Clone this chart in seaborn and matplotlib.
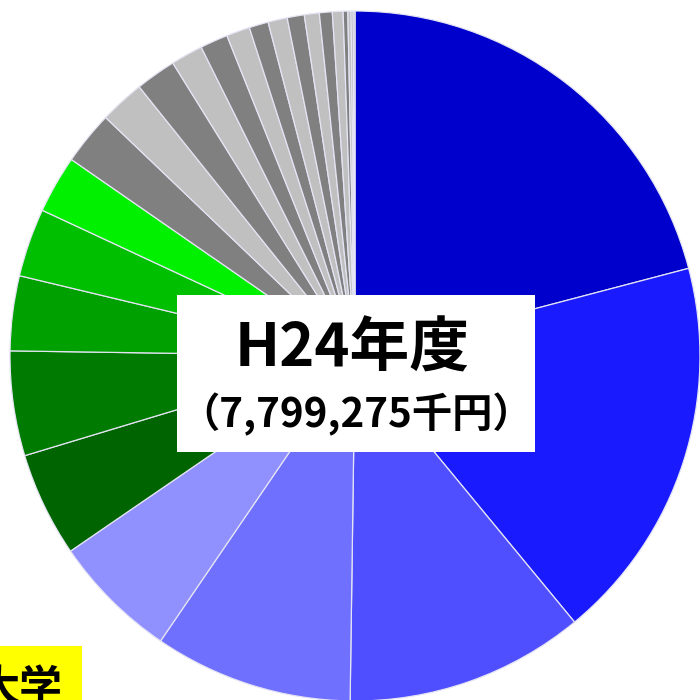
import matplotlib
matplotlib.use('Agg')
import matplotlib.pyplot as plt
import seaborn as sns
from matplotlib.patches import Rectangle

# share of the H24 budget (%), clockwise from 12 o'clock
blue_shares = [20.9, 18.1, 11.2, 9.3, 5.9]
green_shares = [4.9, 4.9, 3.5, 3.2, 2.7]
grey_shares = [2.5, 2.1, 1.9, 1.5, 1.3, 1.1, 0.9, 0.9, 0.8, 0.7, 0.6, 0.5,
               0.22, 0.15, 0.09, 0.09]

blue_colors = ['#0000CC', '#1A1AFF', '#4F4FFF', '#7070FF', '#9090FF']
green_colors = ['#006400', '#007A00', '#00A000', '#00BE00', '#00F000']
grey_colors = ['#808080', '#C0C0C0'] * 8

title_text = 'H24年度'
total_text = '（7,799,275千円）'
corner_text = '大学'

sns.set_theme(style='white')
plt.rcParams['font.family'] = ['Noto Sans CJK JP', 'DejaVu Sans']

values = blue_shares + green_shares + grey_shares
colors = blue_colors + green_colors + grey_colors[:len(grey_shares)]

fig = plt.figure(figsize=(7, 7), dpi=100)
ax = fig.add_axes([0, 0, 1, 1])
ax.pie(values, colors=colors, startangle=90, counterclock=False,
       wedgeprops=dict(edgecolor='#E4E4F4', linewidth=0.9))
ax.set_xlim(-355 / 345, 345 / 345)
ax.set_ylim(-344 / 345, 356 / 345)
ax.set_aspect('auto')
ax.axis('off')

# overlay in pixel coordinates for the labels
ov = fig.add_axes([0, 0, 1, 1])
ov.set_xlim(0, 700)
ov.set_ylim(700, 0)
ov.axis('off')
ov.add_patch(Rectangle((177, 295), 358, 157, facecolor='white', edgecolor='none'))
ov.text(352, 350, title_text, ha='center', va='center', fontsize=43,
        fontweight='bold', color='black')
ov.text(356, 415, total_text, ha='center', va='center', fontsize=29,
        fontweight='bold', color='black')

# label box running off the lower-left corner, as in the original slide
ov.add_patch(Rectangle((-5, 646), 87, 60, facecolor='#FFFF00', edgecolor='none'))
ov.text(62, 688, corner_text, ha='right', va='center', fontsize=31,
        fontweight='bold', color='black')

fig.savefig('out.png', dpi=100)
